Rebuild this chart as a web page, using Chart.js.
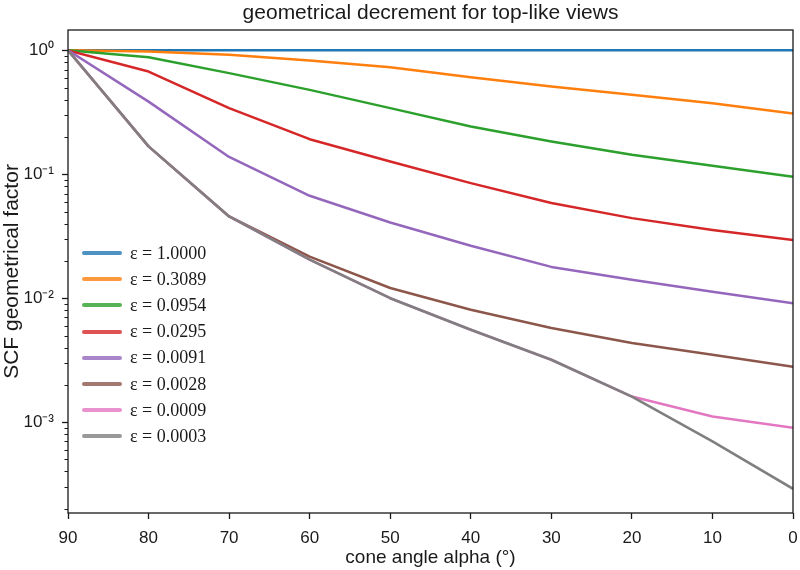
<!DOCTYPE html>
<html>
<head>
<meta charset="utf-8">
<script src="https://cdn.jsdelivr.net/npm/chart.js@4.4.1/dist/chart.umd.min.js"></script>
<style>
    body { margin: 0; background: #fff; }
    #wrap { position: relative; width: 800px; height: 570px; }
    #legend { position: absolute; left: 82px; top: 240px; font-family: "Liberation Serif", "Times New Roman", serif; font-size: 18px; color: #1a1a1a; }
    .item { display: flex; align-items: center; height: 26.2px; }
    .swatch { display: inline-block; width: 40px; height: 4px; border-radius: 2px; margin-right: 8px; opacity: 0.8; }
</style>
</head>
<body>
<div id="wrap">
    <canvas id="chart" width="800" height="570"></canvas>
    <div id="legend"></div>
</div>
<script>
// cone angle alpha (deg), x axis runs 90 -> 0
const angles = [90, 80, 70, 60, 50, 40, 30, 20, 10, 0];

// SCF geometrical factor for each epsilon
const eps10000 = [1, 1, 1, 1, 1, 1, 1, 1, 1, 1];
const eps03089 = [1, 0.978, 0.920, 0.827, 0.732, 0.608, 0.511, 0.438, 0.375, 0.309];
const eps00954 = [1, 0.880, 0.655, 0.480, 0.342, 0.243, 0.184, 0.144, 0.117, 0.0954];
const eps00295 = [1, 0.675, 0.342, 0.192, 0.127, 0.0849, 0.0586, 0.0443, 0.0356, 0.0295];
const eps00091 = [1, 0.386, 0.138, 0.0671, 0.0408, 0.0265, 0.0179, 0.0141, 0.0113, 0.0091];
const eps00028 = [1, 0.168, 0.0457, 0.0217, 0.0121, 0.00807, 0.00575, 0.00436, 0.0035, 0.0028];
const eps00009 = [1, 0.168, 0.0457, 0.0205, 0.0100, 0.00557, 0.00319, 0.00161, 0.00111, 0.0009];
const eps00003 = [1, 0.168, 0.0457, 0.0205, 0.0100, 0.00557, 0.00319, 0.00161, 0.00070, 0.00029];

const seriesLabels = ["ε = 1.0000", "ε = 0.3089", "ε = 0.0954", "ε = 0.0295",
                      "ε = 0.0091", "ε = 0.0028", "ε = 0.0009", "ε = 0.0003"];
const seriesValues = [eps10000, eps03089, eps00954, eps00295, eps00091, eps00028, eps00009, eps00003];
const colors = ["#1f77b4", "#ff7f0e", "#2ca02c", "#d62728", "#9467bd", "#8c564b", "#e377c2", "#7f7f7f"];

const yMajorTicks = [1, 0.1, 0.01, 0.001];
const yTickLabels = ["10⁰", "10⁻¹", "10⁻²", "10⁻³"];
const xTicks = [90, 80, 70, 60, 50, 40, 30, 20, 10, 0];

const yMin = 1.85e-4, yMax = 1.46;
const ink = "#1a1a1a";
const sans = "'Liberation Sans', Arial, sans-serif";

const datasets = seriesValues.map((vals, i) => ({
    label: seriesLabels[i],
    data: angles.map((a, j) => ({ x: a, y: vals[j] })),
    borderColor: colors[i],
    borderWidth: 2.5,
    pointRadius: 0,
    tension: 0,
    borderJoinStyle: "round",
    order: seriesValues.length - i   // last series on top, like matplotlib
}));

// frame around the axes and matplotlib-like major/minor ticks on the log axis
const frameAndTicks = {
    id: "frameAndTicks",
    afterDraw(chart) {
        const { ctx, chartArea: a } = chart;
        const y = chart.scales.y;
        ctx.save();
        ctx.strokeStyle = ink;
        ctx.lineWidth = 1.3;
        ctx.strokeRect(a.left, a.top, a.right - a.left, a.bottom - a.top);
        y.ticks.forEach(t => {
            const major = yMajorTicks.includes(t.value);
            const py = Math.round(y.getPixelForValue(t.value)) + 0.5;
            ctx.lineWidth = major ? 1.3 : 1;
            ctx.beginPath();
            ctx.moveTo(a.left - (major ? 6 : 3.5), py);
            ctx.lineTo(a.left, py);
            ctx.stroke();
        });
        ctx.restore();
    }
};

new Chart(document.getElementById("chart"), {
    type: "line",
    data: { datasets },
    options: {
        responsive: false,
        animation: false,
        layout: { padding: { left: 0, right: 7, top: 0, bottom: 0 } },
        plugins: {
            legend: { display: false },
            tooltip: { enabled: false },
            title: {
                display: true,
                fullSize: false,
                text: "geometrical decrement for top-like views",
                color: ink,
                font: { family: sans, size: 21, weight: "normal" },
                padding: { top: 1, bottom: 3.8 }
            }
        },
        scales: {
            x: {
                type: "linear",
                min: 0,
                max: 90,
                reverse: true,
                afterFit: s => { s.height = 57; s.paddingLeft = 0; s.paddingRight = 0; },
                afterBuildTicks: s => { s.ticks = xTicks.map(v => ({ value: v })); },
                grid: { drawOnChartArea: false, drawTicks: true, tickLength: 6, tickColor: ink, tickWidth: 1.3 },
                border: { display: false },
                ticks: { color: ink, font: { family: sans, size: 17 }, padding: 9, autoSkip: false, maxRotation: 0 },
                title: {
                    display: true,
                    text: "cone angle alpha (°)",
                    color: ink,
                    font: { family: sans, size: 19 },
                    padding: { top: 0, bottom: 1 }
                }
            },
            y: {
                type: "logarithmic",
                min: yMin,
                max: yMax,
                afterFit: s => { s.width = 68; },
                afterBuildTicks: s => {
                    const ticks = [];
                    yMajorTicks.forEach(d => {
                        for (let k = 1; k <= 9; k++) {
                            const v = d * k;
                            if (v >= yMin && v <= yMax) ticks.push({ value: v });
                        }
                    });
                    for (let k = 2; k <= 9; k++) {
                        const v = 0.0001 * k;
                        if (v >= yMin) ticks.push({ value: v });
                    }
                    s.ticks = ticks;
                },
                grid: { drawOnChartArea: false, drawTicks: false },
                border: { display: false },
                ticks: {
                    color: ink,
                    font: { family: sans, size: 17 },
                    padding: 14,
                    autoSkip: false,
                    callback: v => {
                        const i = yMajorTicks.indexOf(v);
                        return i >= 0 ? yTickLabels[i] : "";
                    }
                },
                title: {
                    display: true,
                    text: "SCF geometrical factor",
                    color: ink,
                    font: { family: sans, size: 21 },
                    padding: { top: 0, bottom: 0 }
                }
            }
        }
    },
    plugins: [frameAndTicks]
});

// legend inside the axes, top-left below the curves
const legendEl = document.getElementById("legend");
seriesLabels.forEach((lab, i) => {
    const row = document.createElement("div");
    row.className = "item";
    row.innerHTML = `<span class="swatch" style="background:${colors[i]}"></span><span>${lab}</span>`;
    legendEl.appendChild(row);
});
</script>
</body>
</html>
